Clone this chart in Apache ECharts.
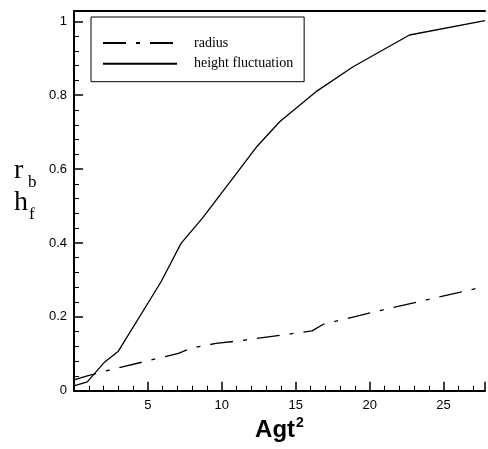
<!DOCTYPE html>
<html><head><meta charset="utf-8">
<script src="https://cdn.jsdelivr.net/npm/echarts@6/dist/echarts.min.js"></script>
<style>html,body{margin:0;padding:0;background:#fff}#c{width:488px;height:449px}</style>
</head><body><div id="c"></div>
<script>
const heightX = [0, 0.9, 2.08, 2.98, 5.89, 7.24, 8.7, 11.16, 12.39, 13.91, 16.35, 18.88, 22.69, 27.8];
const heightY = [0.013, 0.024, 0.078, 0.106, 0.295, 0.399, 0.468, 0.597, 0.662, 0.728, 0.809, 0.877, 0.963, 1.002];
const radiusX = [0, 0.9, 2.2, 7.06, 7.9, 9.6, 11.15, 14.5, 16.1, 16.87, 20.9, 27.8];
const radiusY = [0.029, 0.04, 0.054, 0.101, 0.115, 0.128, 0.135, 0.153, 0.162, 0.18, 0.219, 0.282];
const xTicks = [5, 10, 15, 20, 25];
const yTicks = [0, 0.2, 0.4, 0.6, 0.8, 1];

const chart = echarts.init(document.getElementById('c'));
const pairs = (xs, ys) => xs.map((x, i) => [x, ys[i]]);
const axisFont = {fontFamily: 'Liberation Sans', fontSize: 13, color: '#000'};
const serif = (t, size, x, y) => ({type: 'text', x, y, style: {text: t, fontFamily: 'Liberation Serif', fontSize: size, fill: '#000', verticalAlign: 'middle', align: 'left'}});
chart.setOption({
  animation: false,
  grid: {left: 74, top: 11, right: 0, bottom: 58.3, containLabel: false},
  legend: {
    orient: 'vertical', left: 91, top: 17,
    borderColor: '#000', borderWidth: 1,
    padding: [19, 11, 11, 11],
    itemWidth: 74, itemHeight: 14, itemGap: 6.7,
    itemStyle: {color: 'rgba(0,0,0,0)', borderWidth: 0, opacity: 0},
    textStyle: {fontFamily: 'Liberation Serif', fontSize: 14, color: '#000', padding: [0, 0, 0, 12]},
    data: ['radius', 'height fluctuation']
  },
  graphic: [
    serif('r', 28, 14, 170.5),
    serif('b', 17, 28, 183),
    serif('h', 28, 14, 202.5),
    serif('f', 17, 29, 215)
  ],
  xAxis: [{
    type: 'value', min: 0, max: 27.8, interval: 5,
    axisLine: {lineStyle: {color: '#000', width: 2}},
    axisTick: {inside: true, length: 9, lineStyle: {color: '#000', width: 1.5}},
    minorTick: {show: true, splitNumber: 5, length: 5, lineStyle: {color: '#000', width: 1}},
    splitLine: {show: false},
    axisLabel: {...axisFont, margin: 8, formatter: v => xTicks.includes(v) ? String(v) : ''},
    name: '{a|Agt}{s|2}', nameLocation: 'middle', nameGap: 25,
    nameTextStyle: {rich: {
      a: {fontFamily: 'Liberation Sans', fontWeight: 'bold', fontSize: 24, color: '#000'},
      s: {fontFamily: 'Liberation Sans', fontWeight: 'bold', fontSize: 14, color: '#000', verticalAlign: 'top', padding: [0, 0, 14, 1]}
    }}
  }, {
    type: 'value', position: 'top', min: 0, max: 27.8,
    axisLine: {show: true, onZero: false, lineStyle: {color: '#000', width: 2}},
    axisTick: {show: false}, axisLabel: {show: false}, splitLine: {show: false}
  }],
  yAxis: {
    type: 'value', min: 0, max: 1.028, interval: 0.2,
    axisLine: {show: true, lineStyle: {color: '#000', width: 2}},
    axisTick: {inside: true, length: 9, lineStyle: {color: '#000', width: 1.5}},
    minorTick: {show: true, splitNumber: 5, length: 5, lineStyle: {color: '#000', width: 1}},
    splitLine: {show: false},
    axisLabel: {...axisFont, margin: 7, formatter: v => {
      const t = yTicks.find(k => Math.abs(k - v) < 1e-9);
      return t === undefined ? '' : String(t);
    }}
  },
  series: [{
    name: 'radius', type: 'line', showSymbol: false, symbol: 'none',
    data: pairs(radiusX, radiusY),
    lineStyle: {color: '#000', width: 1.3, type: [23, 10, 4, 10]},
    itemStyle: {color: '#000'}
  }, {
    name: 'height fluctuation', type: 'line', showSymbol: false, symbol: 'none',
    data: pairs(heightX, heightY),
    lineStyle: {color: '#000', width: 1.3, type: 'solid'},
    itemStyle: {color: '#000'}
  }]
});
</script></body></html>
